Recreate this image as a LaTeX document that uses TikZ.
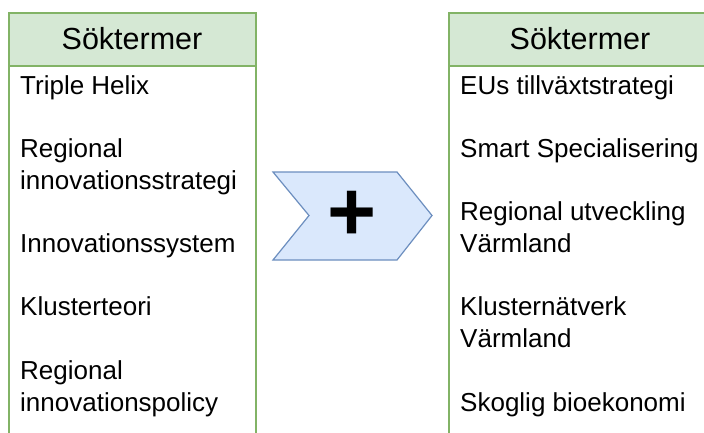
\documentclass[tikz,border=0pt]{standalone}
\usepackage{fontspec}
\setmainfont{Liberation Sans}
\definecolor{hdrfill}{HTML}{D5E8D4}
\definecolor{hdrline}{HTML}{82B366}
\definecolor{chevfill}{HTML}{DAE8FC}
\definecolor{chevline}{HTML}{6C8EBF}
\begin{document}
\begin{tikzpicture}[x=1pt,y=-1pt,
  boxline/.style={draw=hdrline, line width=1.3pt},
  item/.style={anchor=base west, inner sep=0pt, font=\fontsize{26}{30}\selectfont},
  hdr/.style={anchor=base, inner sep=0pt, font=\fontsize{30.5}{36}\selectfont}]
\useasboundingbox (0,0) rectangle (704,432);
\clip (0,0) rectangle (704,432);
\fill[white] (0,0) rectangle (704,432);
% left box
\draw[boxline, fill=white] (9,66) rectangle (256,445);
\draw[boxline, fill=hdrfill] (9,13) rectangle (256,66);
\node[hdr] (lh) at (132,49) {Söktermer};
\node[item] (l1) at (20,94) {Triple Helix};
\node[item] (l2a) at (20,157.4) {Regional};
\node[item] (l2b) at (20,189.1) {innovationsstrategi};
\node[item] (l3) at (20,252.5) {Innovationssystem};
\node[item] (l4) at (20,315.9) {Klusterteori};
\node[item] (l5a) at (20,379.3) {Regional};
\node[item] (l5b) at (20,411) {innovationspolicy};
% right box
\draw[boxline, fill=white] (449,66) rectangle (711,445);
\draw[boxline, fill=hdrfill] (449,13) rectangle (711,66);
\node[hdr] (rh) at (580,49) {Söktermer};
\node[item] (r1) at (460,94) {EUs tillväxtstrategi};
\node[item] (r2) at (460,157.4) {Smart Specialisering};
\node[item] (r3a) at (460,220.8) {Regional utveckling};
\node[item] (r3b) at (460,252.5) {Värmland};
\node[item] (r4a) at (460,315.9) {Klusternätverk};
\node[item] (r4b) at (460,347.6) {Värmland};
\node[item] (r5) at (460,411) {Skoglig bioekonomi};
% chevron
\draw[draw=chevline, fill=chevfill, line width=1.2pt, line join=miter]
  (273,172) -- (397,172) -- (432,215.5) -- (397,260) -- (273,260) -- (309,215.5) -- cycle;
\node[inner sep=0pt, font=\fontsize{84}{84}\bfseries\selectfont] (plus) at (352,215.5) {+};
\end{tikzpicture}
\end{document}
